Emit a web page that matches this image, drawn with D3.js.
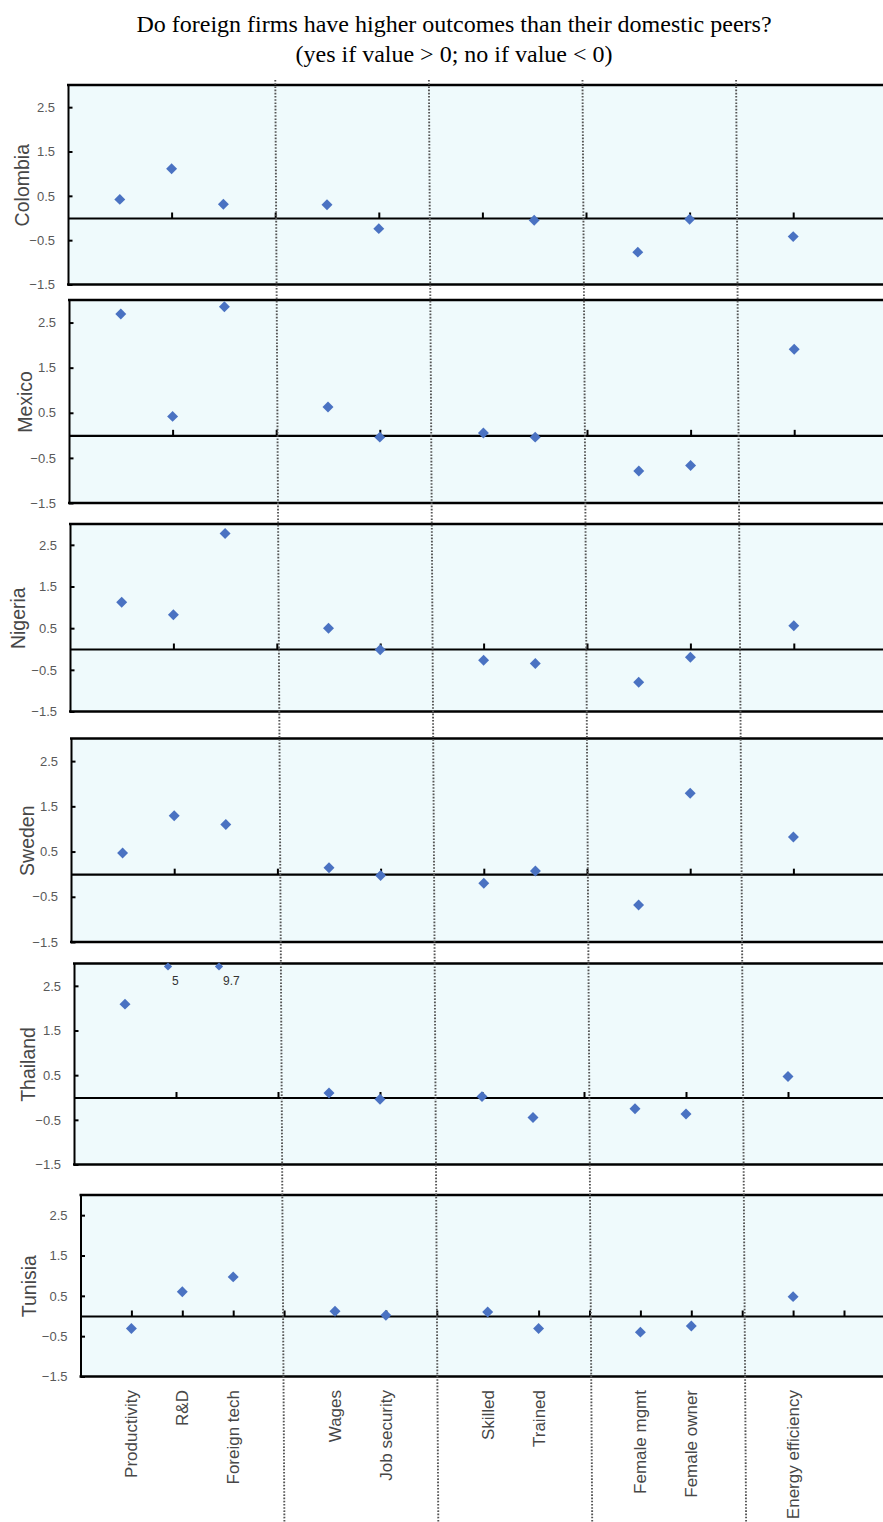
<!DOCTYPE html>
<html>
<head>
<meta charset="utf-8">
<script src="https://cdn.jsdelivr.net/npm/d3@7"></script>
<style>
  body { margin: 0; background: #fff; }
  svg { display: block; }
</style>
</head>
<body>
<svg id="chart" width="883" height="1522"></svg>
<script>
// ---- data -------------------------------------------------------------
const countries = ["Colombia", "Mexico", "Nigeria", "Sweden", "Thailand", "Tunisia"];
const outcomes = ["Productivity", "R&D", "Foreign tech", "Wages", "Job security",
                  "Skilled", "Trained", "Female mgmt", "Female owner", "Energy efficiency"];
// position of each outcome on the category axis; empty slots split the groups
const outcomeSlots = [1, 2, 3, 5, 6, 8, 9, 11, 12, 14];
const groupBreaks = [4, 7, 10, 13];
const slotCount = 17;
const yTicks = [2.5, 1.5, 0.5, -0.5, -1.5];

const colombia = [0.42, 1.11, 0.31, 0.30, -0.24, null, -0.05, -0.77, -0.03, -0.42];
const mexico   = [2.69, 0.42, 2.85, 0.63, -0.04, 0.05, -0.04, -0.79, -0.67, 1.91];
const nigeria  = [1.12, 0.82, 2.77, 0.50, -0.02, -0.27, -0.35, -0.80, -0.20, 0.56];
const sweden   = [0.47, 1.29, 1.10, 0.14, -0.03, -0.20, 0.07, -0.68, 1.79, 0.82];
const thailand = [2.09, 5, 9.7, 0.10, -0.04, 0.02, -0.45, -0.25, -0.37, 0.47];
const tunisia  = [-0.31, 0.60, 0.97, 0.12, 0.02, 0.10, -0.31, -0.40, -0.25, 0.48];
const series = [colombia, mexico, nigeria, sweden, thailand, tunisia];

// ---- layout -----------------------------------------------------------
const yDomain = [-1.5, 3];
const panelLayout = [
  { left: 68,   top: 85,    bottom: 284.5,  step: 51.8, labelX: 22,   tickEvery: 2 },
  { left: 69,   top: 300,   bottom: 503,    step: 51.8, labelX: 25,   tickEvery: 2 },
  { left: 70,   top: 524,   bottom: 711.5,  step: 51.7, labelX: 18.5, tickEvery: 2 },
  { left: 71,   top: 738.5, bottom: 942,    step: 51.6, labelX: 27,   tickEvery: 2 },
  { left: 74,   top: 963.5, bottom: 1164.5, step: 51.0, labelX: 28,   tickEvery: 2 },
  { left: 80.5, top: 1195,  bottom: 1376.5, step: 50.9, labelX: 29.5, tickEvery: 1 }
];
const W = 883, H = 1522;
const fill = "#effafc";
const markerColor = "#4a72c2";
const axisGrey = "#595959";
const labelGrey = "#474747";
const sans = "'Liberation Sans', Arial, sans-serif";

const svg = d3.select("#chart");

// ---- title ------------------------------------------------------------
const title = svg.append("g")
  .attr("font-family", "'Liberation Serif', 'Times New Roman', serif")
  .attr("font-size", 24)
  .attr("text-anchor", "middle")
  .attr("fill", "#000");
title.append("text").attr("x", 454).attr("y", 32)
  .text("Do foreign firms have higher outcomes than their domestic peers?");
title.append("text").attr("x", 454).attr("y", 61.5)
  .text("(yes if value > 0; no if value < 0)");

// ---- panels -----------------------------------------------------------
const diamond = d3.symbol(d3.symbolSquare, 60);
const diamondSmall = d3.symbol(d3.symbolSquare, 34);
let lastX = null;

countries.forEach((country, ci) => {
  const L = panelLayout[ci];
  const x = d3.scaleLinear()
    .domain([0, slotCount - 1])
    .range([L.left, L.left + (slotCount - 1) * L.step]);
  const y = d3.scaleLinear().domain(yDomain).range([L.bottom, L.top]).clamp(true);
  if (ci === countries.length - 1) lastX = x;

  const g = svg.append("g").attr("class", "panel");

  g.append("rect")
    .attr("x", L.left).attr("y", L.top)
    .attr("width", W + 20 - L.left).attr("height", L.bottom - L.top)
    .attr("fill", fill);

  // zero line with category ticks pointing up
  const xAxis = d3.axisTop(x)
    .tickValues(d3.range(L.tickEvery, slotCount, L.tickEvery))
    .tickSize(5.5)
    .tickSizeOuter(0)
    .tickFormat("");
  const xa = g.append("g")
    .attr("transform", `translate(0,${y(0)})`)
    .call(xAxis);
  xa.select(".domain").attr("stroke", "#000").attr("stroke-width", 2.2);
  xa.selectAll(".tick line").attr("stroke", "#000").attr("stroke-width", 2);

  // value axis on the left, ticks pointing inward
  const yAxis = d3.axisLeft(y)
    .tickValues(yTicks)
    .tickSizeInner(-4.5)
    .tickSizeOuter(0)
    .tickPadding(13)
    .tickFormat(d3.format(".1f"));
  const ya = g.append("g")
    .attr("transform", `translate(${L.left},0)`)
    .call(yAxis);
  ya.select(".domain").attr("stroke", "#000").attr("stroke-width", 2);
  ya.selectAll(".tick line").attr("stroke", "#000").attr("stroke-width", 2);
  ya.selectAll(".tick text")
    .attr("font-family", sans).attr("font-size", 13)
    .attr("fill", axisGrey);

  // top and bottom frame
  [L.top, L.bottom].forEach(yy => {
    g.append("line")
      .attr("x1", L.left - 1).attr("x2", W + 20)
      .attr("y1", yy).attr("y2", yy)
      .attr("stroke", "#000").attr("stroke-width", 2.6);
  });

  // country name
  g.append("text")
    .attr("transform", `translate(${L.labelX},${y(0.74)}) rotate(-90)`)
    .attr("text-anchor", "middle")
    .attr("dy", "0.35em")
    .attr("font-family", sans)
    .attr("font-size", 19.5)
    .attr("fill", labelGrey)
    .text(country);

  // points
  const pts = outcomes.map((o, i) => ({ outcome: o, slot: outcomeSlots[i], value: series[ci][i] }))
    .filter(d => d.value !== null);
  const over = d => d.value > yDomain[1];

  g.selectAll("path.pt")
    .data(pts)
    .join("path")
    .attr("class", "pt")
    .attr("d", d => over(d) ? diamondSmall() : diamond())
    .attr("transform", d => over(d)
      ? `translate(${x(d.slot) - 8},${y(d.value) + 3}) rotate(45)`
      : `translate(${x(d.slot)},${y(d.value)}) rotate(45)`)
    .attr("fill", markerColor);

  // off-scale values are written next to their marker
  g.selectAll("text.over")
    .data(pts.filter(over))
    .join("text")
    .attr("class", "over")
    .attr("x", d => x(d.slot) - 4)
    .attr("y", d => y(d.value) + 21)
    .attr("font-family", sans)
    .attr("font-size", 12)
    .attr("fill", "#333")
    .text(d => String(d.value));
});

// ---- group separators -------------------------------------------------
const sepTop = d3.scaleLinear().domain([0, 1]).range([70.5, 121.7]);
const sepBottom = d3.scaleLinear().domain([0, 1]).range([79.2, 130.5]);
svg.append("g")
  .selectAll("line")
  .data(groupBreaks)
  .join("line")
  .attr("x1", d => sepTop(d)).attr("y1", 80)
  .attr("x2", d => sepBottom(d)).attr("y2", H)
  .attr("stroke", "#555")
  .attr("stroke-width", 1.9)
  .attr("stroke-dasharray", "1.6 1.6");

// ---- category labels --------------------------------------------------
svg.append("g")
  .selectAll("text")
  .data(outcomes)
  .join("text")
  .attr("transform", (d, i) => `translate(${lastX(outcomeSlots[i])},1390) rotate(-90)`)
  .attr("text-anchor", "end")
  .attr("dy", "0.35em")
  .attr("font-family", sans)
  .attr("font-size", 17)
  .attr("fill", labelGrey)
  .text(d => d);
</script>
</body>
</html>
